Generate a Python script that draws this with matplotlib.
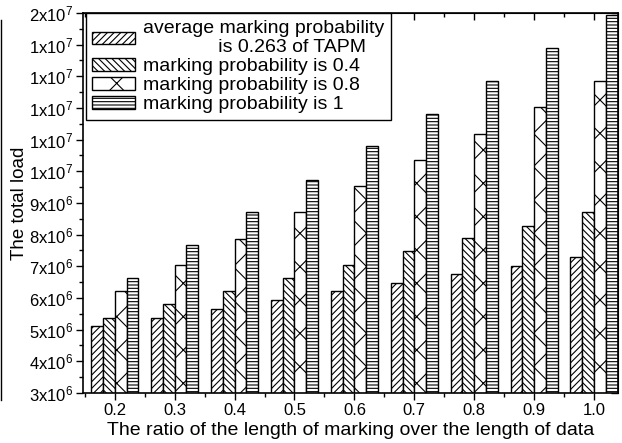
import matplotlib
matplotlib.use('Agg')
import matplotlib.pyplot as plt
from matplotlib.ticker import FixedLocator, FuncFormatter, MultipleLocator
from matplotlib.lines import Line2D
import numpy as np

plt.rcParams['font.family'] = ['Liberation Sans', 'DejaVu Sans']
plt.rcParams['mathtext.fontset'] = 'custom'
plt.rcParams['mathtext.rm'] = 'Liberation Sans'
plt.rcParams['mathtext.it'] = 'Liberation Sans:italic'
plt.rcParams['hatch.linewidth'] = 0.8

# ratio of marking length over data length
ratios = [0.2, 0.3, 0.4, 0.5, 0.6, 0.7, 0.8, 0.9, 1.0]

# total load for each marking scheme
load_tapm = [5.11e6, 5.38e6, 5.65e6, 5.93e6, 6.21e6, 6.47e6, 6.75e6, 7.02e6, 7.28e6]
load_p04 = [5.38e6, 5.80e6, 6.21e6, 6.63e6, 7.05e6, 7.48e6, 7.88e6, 8.28e6, 8.70e6]
load_p08 = [6.21e6, 7.05e6, 7.87e6, 8.70e6, 9.53e6, 10.36e6, 11.18e6, 12.02e6, 12.85e6]
load_p1 = [6.63e6, 7.68e6, 8.70e6, 9.71e6, 10.79e6, 11.81e6, 12.85e6, 13.89e6, 14.93e6]

labels = ['average marking probability\n              is 0.263 of TAPM',
          'marking probability is 0.4',
          'marking probability is 0.8',
          'marking probability is 1']
hatches = ['/////', '\\\\\\\\\\', 'x', '-----']
series = [load_tapm, load_p04, load_p08, load_p1]

fig = plt.figure(figsize=(6.22, 4.43), dpi=100)
ax = fig.add_axes([0.1334, 0.1129, 0.8602, 0.8578])

x = np.array(ratios)
w = 0.0197
for i, (vals, h, lab) in enumerate(zip(series, hatches, labels)):
    ax.bar(x + (i - 1.5) * w, vals, w, facecolor='white', edgecolor='black',
           hatch=h, linewidth=1.0, label=lab)

ax.set_xlim(0.147, 1.04)
ax.set_ylim(3e6, 15e6)

ax.xaxis.set_major_locator(FixedLocator(ratios))
ax.xaxis.set_minor_locator(FixedLocator([r - 0.05 for r in ratios]))
ax.xaxis.set_major_formatter(FuncFormatter(lambda v, p: f'{v:.1f}'))
ax.yaxis.set_major_locator(MultipleLocator(1e6))
ax.yaxis.set_minor_locator(MultipleLocator(5e5))


def sci(v, pos):
    e = int(np.floor(np.log10(v)))
    return f'{v / 10 ** e:.0f}x10$^{{{e}}}$'


ax.yaxis.set_major_formatter(FuncFormatter(sci))

ax.tick_params(which='both', direction='out', labelsize=12, width=1.0, pad=2)
ax.tick_params(which='major', length=5)
ax.tick_params(which='minor', length=3)
for s in ax.spines.values():
    s.set_linewidth(1.2)

# inward ticks along the top and right edges
top = ax.secondary_xaxis('top')
top.xaxis.set_major_locator(FixedLocator(ratios))
top.xaxis.set_minor_locator(FixedLocator([r - 0.05 for r in ratios]))
top.tick_params(which='both', direction='in', labeltop=False, width=1.0)
top.tick_params(which='major', length=5)
top.tick_params(which='minor', length=3)
right = ax.secondary_yaxis('right')
right.yaxis.set_major_locator(MultipleLocator(1e6))
right.yaxis.set_minor_locator(MultipleLocator(5e5))
right.tick_params(which='both', direction='in', labelright=False, width=1.0)
right.tick_params(which='major', length=5)
right.tick_params(which='minor', length=3)

ax.set_xlabel('The ratio of the length of marking over the length of data',
              fontsize=14, labelpad=3)
ax.set_ylabel('The total load', fontsize=13.5, labelpad=1)

leg = ax.legend(loc='upper left', bbox_to_anchor=(0.005, 1.0), fontsize=14,
                frameon=True, fancybox=False, edgecolor='black',
                handlelength=2.2, handleheight=0.6, handletextpad=0.4,
                labelspacing=0.1, borderpad=0.35, borderaxespad=0)
leg.get_frame().set_linewidth(1.0)
leg.get_frame().set_alpha(1)

fig.add_artist(Line2D([0.002, 0.002], [0.097, 0.955], transform=fig.transFigure,
                      color='black', linewidth=1.0))

fig.savefig('out.png', dpi=100)
